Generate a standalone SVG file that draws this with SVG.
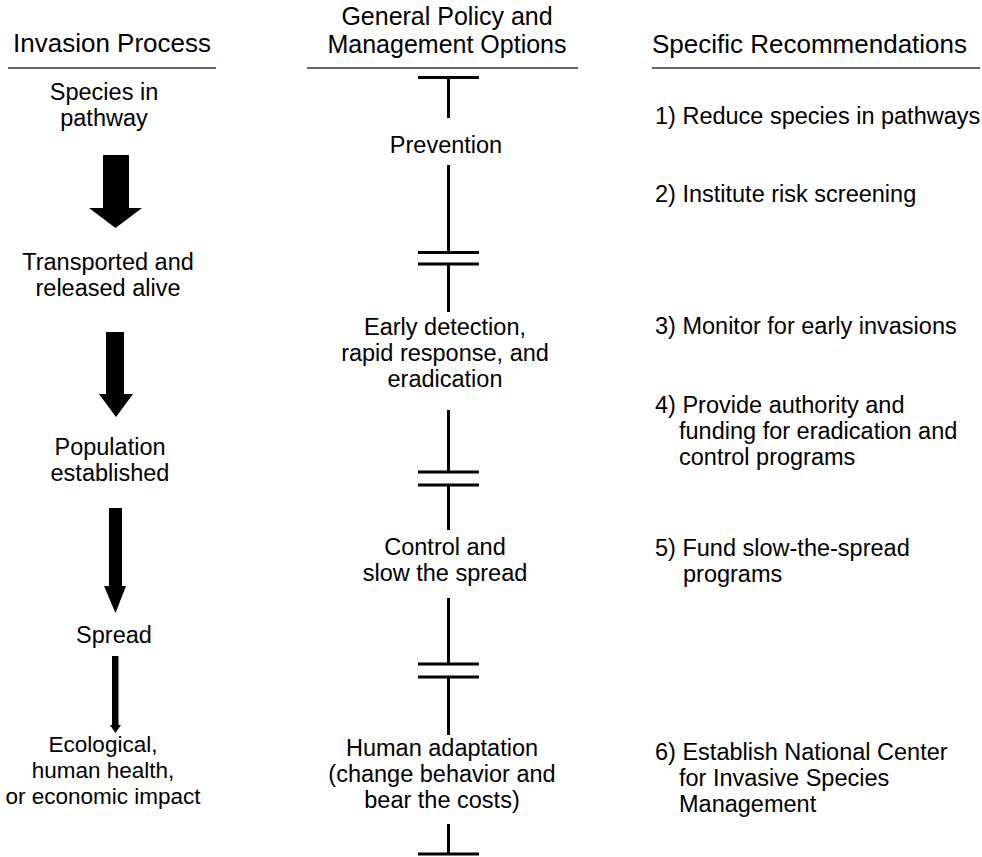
<svg xmlns="http://www.w3.org/2000/svg" width="982" height="857" viewBox="0 0 982 857">
<style>
  text { font-family: "Liberation Sans", Arial, sans-serif; fill: #000; }
  .hd { font-size: 26px; }
  .hm { font-size: 25px; }
  .bd { font-size: 23.5px; }
  .sm { font-size: 22.5px; }
  .c { text-anchor: middle; }
  .ul { stroke: #333; stroke-width: 1.6; }
  .bar { stroke: #000; stroke-width: 3; fill: none; }
  .arr { fill: #000; }
</style>
<rect width="982" height="857" fill="#fff"/>
<g id="headers">
  <text class="hd c" x="112" y="52">Invasion Process</text>
  <text class="hm c" x="447" y="25">General Policy and</text>
  <text class="hm c" x="447" y="53">Management Options</text>
  <text class="hd" x="652" y="53">Specific Recommendations</text>
  <line class="ul" x1="8" y1="68" x2="216" y2="68"/>
  <line class="ul" x1="307" y1="68" x2="578" y2="68"/>
  <line class="ul" x1="652" y1="68" x2="980" y2="68"/>
</g>
<g id="stage1"><text class="bd c" x="104" y="100">Species in</text><text class="bd c" x="104" y="126">pathway</text></g>
<g id="stage2"><text class="bd c" x="108" y="270">Transported and</text><text class="bd c" x="108" y="296">released alive</text></g>
<g id="stage3"><text class="bd c" x="110" y="455">Population</text><text class="bd c" x="110" y="481">established</text></g>
<g id="stage4"><text class="bd c" x="114" y="643">Spread</text></g>
<g id="stage5"><text class="sm c" x="103" y="752">Ecological,</text><text class="sm c" x="103" y="778">human health,</text><text class="sm c" x="103" y="804">or economic impact</text></g>
<g id="opt1"><text class="bd c" x="446" y="153">Prevention</text></g>
<g id="opt2"><text class="bd c" x="445" y="335">Early detection,</text><text class="bd c" x="445" y="361">rapid response, and</text><text class="bd c" x="445" y="387">eradication</text></g>
<g id="opt3"><text class="bd c" x="445" y="555">Control and</text><text class="bd c" x="445" y="581">slow the spread</text></g>
<g id="opt4"><text class="bd c" x="442" y="756">Human adaptation</text><text class="bd c" x="442" y="782">(change behavior and</text><text class="bd c" x="442" y="808">bear the costs)</text></g>
<g id="rec1"><text class="bd" x="655" y="124">1) Reduce species in pathways</text></g>
<g id="rec2"><text class="bd" x="655" y="202">2) Institute risk screening</text></g>
<g id="rec3"><text class="bd" x="655" y="334">3) Monitor for early invasions</text></g>
<g id="rec4"><text class="bd" x="655" y="413">4) Provide authority and</text><text class="bd" x="679" y="439">funding for eradication and</text><text class="bd" x="679" y="465">control programs</text></g>
<g id="rec5"><text class="bd" x="655" y="556">5) Fund slow-the-spread</text><text class="bd" x="683" y="582">programs</text></g>
<g id="rec6"><text class="bd" x="655" y="760">6) Establish National Center</text><text class="bd" x="679" y="786">for Invasive Species</text><text class="bd" x="679" y="812">Management</text></g>
<g id="connectors">
  <polygon class="arr" points="103,155 129,155 129,208 142,208 115.5,228 89,208 103,208"/>
  <polygon class="arr" points="106,332 124,332 124,394 133,394 116,417 99,394 106,394"/>
  <polygon class="arr" points="109,508 122,508 122,586 126,586 115.5,613 104,586 109,586"/>
  <polygon class="arr" points="112,656 118.5,656 118.5,725 121,725 115.5,733 110,725 112,725"/>
  <line class="bar" x1="418" y1="77.5" x2="479" y2="77.5"/>
  <line class="bar" x1="448.5" y1="77.5" x2="448.5" y2="118"/>
  <line class="bar" x1="448.5" y1="165" x2="448.5" y2="252.5"/>
  <line class="bar" x1="418" y1="252.5" x2="479" y2="252.5"/>
  <line class="bar" x1="418" y1="264" x2="479" y2="264"/>
  <line class="bar" x1="448.5" y1="264" x2="448.5" y2="312"/>
  <line class="bar" x1="448.5" y1="410" x2="448.5" y2="472"/>
  <line class="bar" x1="418" y1="472" x2="479" y2="472"/>
  <line class="bar" x1="418" y1="485" x2="479" y2="485"/>
  <line class="bar" x1="448.5" y1="485" x2="448.5" y2="530"/>
  <line class="bar" x1="448.5" y1="598" x2="448.5" y2="664"/>
  <line class="bar" x1="418" y1="664" x2="479" y2="664"/>
  <line class="bar" x1="418" y1="677" x2="479" y2="677"/>
  <line class="bar" x1="448.5" y1="677" x2="448.5" y2="735"/>
  <line class="bar" x1="448.5" y1="824" x2="448.5" y2="854"/>
  <line class="bar" x1="418" y1="854" x2="479" y2="854"/>
</g>
</svg>
